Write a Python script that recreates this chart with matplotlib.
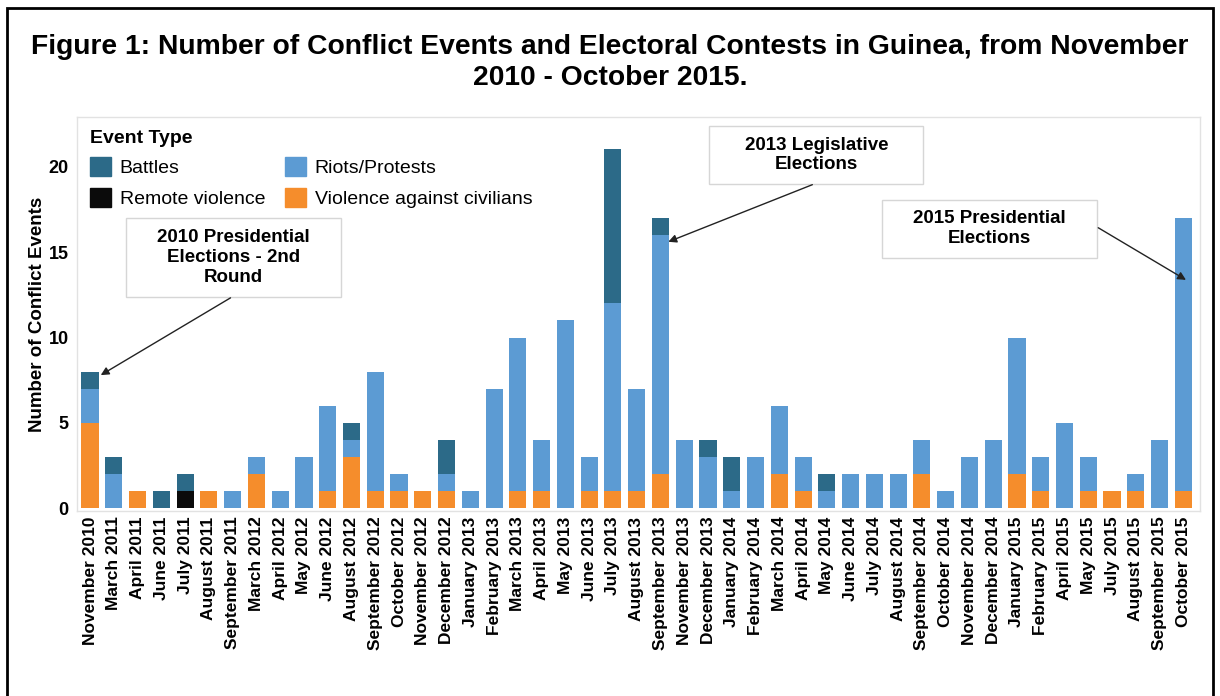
import numpy as np
import matplotlib
matplotlib.use("Agg")
import matplotlib.pyplot as plt
from matplotlib.patches import Rectangle, Patch

plt.rcParams['font.family'] = ['Liberation Sans', 'DejaVu Sans']

# months with at least one event
months = ["November 2010", "March 2011", "April 2011", "June 2011", "July 2011",
          "August 2011", "September 2011", "March 2012", "April 2012", "May 2012",
          "June 2012", "August 2012", "September 2012", "October 2012", "November 2012",
          "December 2012", "January 2013", "February 2013", "March 2013", "April 2013",
          "May 2013", "June 2013", "July 2013", "August 2013", "September 2013",
          "November 2013", "December 2013", "January 2014", "February 2014", "March 2014",
          "April 2014", "May 2014", "June 2014", "July 2014", "August 2014",
          "September 2014", "October 2014", "November 2014", "December 2014", "January 2015",
          "February 2015", "April 2015", "May 2015", "July 2015", "August 2015",
          "September 2015", "October 2015"]

# event counts per type (stacked bottom to top: civilians, remote, riots, battles)
civilians = [5, 0, 1, 0, 0, 1, 0, 2, 0, 0, 1, 3, 1, 1, 1, 1, 0, 0, 1, 1, 0, 1, 1, 1, 2,
             0, 0, 0, 0, 2, 1, 0, 0, 0, 0, 2, 0, 0, 0, 2, 1, 0, 1, 1, 1, 0, 1]
remote = [0, 0, 0, 0, 1, 0, 0, 0, 0, 0, 0, 0, 0, 0, 0, 0, 0, 0, 0, 0, 0, 0, 0, 0, 0,
          0, 0, 0, 0, 0, 0, 0, 0, 0, 0, 0, 0, 0, 0, 0, 0, 0, 0, 0, 0, 0, 0]
riots = [2, 2, 0, 0, 0, 0, 1, 1, 1, 3, 5, 1, 7, 1, 0, 1, 1, 7, 9, 3, 11, 2, 11, 6, 14,
         4, 3, 1, 3, 4, 2, 1, 2, 2, 2, 2, 1, 3, 4, 8, 2, 5, 2, 0, 1, 4, 16]
battles = [1, 1, 0, 1, 1, 0, 0, 0, 0, 0, 0, 1, 0, 0, 0, 2, 0, 0, 0, 0, 0, 0, 9, 0, 1,
           0, 1, 2, 0, 0, 0, 1, 0, 0, 0, 0, 0, 0, 0, 0, 0, 0, 0, 0, 0, 0, 0]

c_battles = '#2c6a88'
c_remote = '#0b0b0b'
c_riots = '#5c9bd3'
c_civ = '#f58d2c'

fig = plt.figure(figsize=(12.2, 6.96), dpi=100)
ax = fig.add_axes([0.0631, 0.2658, 0.9205, 0.5661])

x = np.arange(len(months))
w = 0.72
b = np.zeros(len(months))
ax.bar(x, civilians, w, bottom=b, color=c_civ, zorder=2)
b += civilians
ax.bar(x, remote, w, bottom=b, color=c_remote, zorder=2)
b += remote
ax.bar(x, riots, w, bottom=b, color=c_riots, zorder=2)
b += riots
ax.bar(x, battles, w, bottom=b, color=c_battles, zorder=2)

ax.set_xlim(-0.55, len(months) - 0.3)
ax.set_ylim(-0.15, 22.9)
ax.set_xticks(x)
ax.set_xticklabels(months, rotation=90, fontsize=12.5, fontweight='bold')
ax.set_yticks([0, 5, 10, 15, 20])
ax.set_yticklabels(['0', '5', '10', '15', '20'], fontsize=13, fontweight='bold')
ax.tick_params(axis='x', length=0, pad=4)
ax.tick_params(axis='y', length=0, pad=6)
ax.set_ylabel("Number of Conflict Events", fontsize=13.5, fontweight='bold', labelpad=2)
for s in ax.spines.values():
    s.set_color('#e2e2e2')
    s.set_linewidth(1)

handles = [Patch(color=c_battles), Patch(color=c_remote),
           Patch(color=c_riots), Patch(color=c_civ)]
labels = ["Battles", "Remote violence", "Riots/Protests", "Violence against civilians"]
leg = ax.legend(handles, labels, ncol=2, loc='upper left', bbox_to_anchor=(0.0, 1.0),
                frameon=False, title="Event Type", alignment='left', fontsize=14,
                handlelength=1.1, handleheight=1.1, handletextpad=0.45,
                columnspacing=1.0, labelspacing=0.55, borderaxespad=0.25)
leg.get_title().set_fontweight('bold')
leg.get_title().set_fontsize(14)

# annotation boxes (data coords: x0, x1, y0, y1) with arrow start and end
notes = [
    ("2010 Presidential\nElections - 2nd\nRound", (1.52, 10.56, 12.38, 17.0), (5.91, 12.32), (0.45, 7.8)),
    ("2013 Legislative\nElections", (26.05, 35.06, 19.0, 22.35), (30.39, 18.94), (24.33, 15.6)),
    ("2015 Presidential\nElections", (33.33, 42.38, 14.66, 18.06), (42.42, 16.42), (46.11, 13.37)),
]
for text, (x0, x1, y0, y1), start, end in notes:
    ax.add_patch(Rectangle((x0, y0), x1 - x0, y1 - y0, fc='white', ec='#d6d6d6',
                           lw=1, zorder=4))
    ax.text((x0 + x1) / 2, (y0 + y1) / 2, text, ha='center', va='center',
            fontsize=13.5, fontweight='bold', linespacing=1.22, zorder=5)
    ax.annotate("", xy=end, xytext=start,
                arrowprops=dict(arrowstyle='-|>', color='#222222', lw=1,
                                mutation_scale=12, shrinkA=0, shrinkB=0), zorder=5)

fig.text(0.5, 0.910, "Figure 1: Number of Conflict Events and Electoral Contests in Guinea, from November\n2010 - October 2015.",
         ha='center', va='center', fontsize=20.3, fontweight='bold', linespacing=1.22)

# outer frame around the whole figure
fig.patches.append(Rectangle((7 / 1220, -0.05), 1206 / 1220, 1.05 - 8 / 696,
                             transform=fig.transFigure, fill=False, ec='black', lw=2))

fig.savefig('out.png', dpi=100)
